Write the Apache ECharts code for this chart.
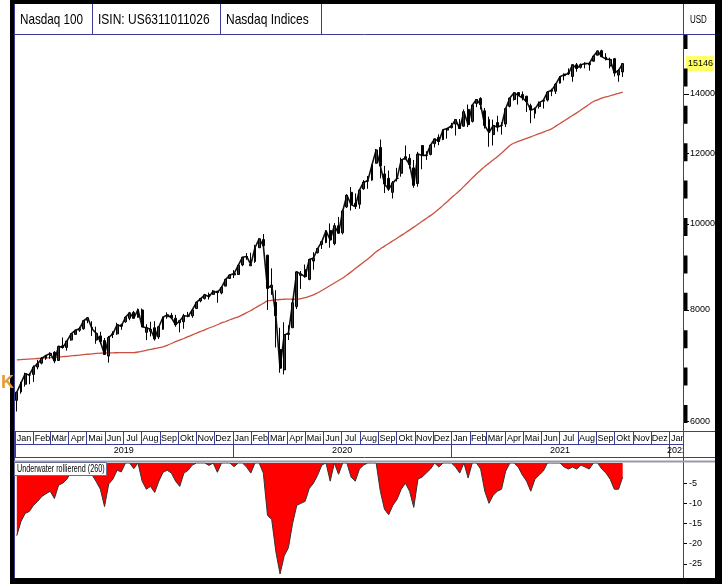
<!DOCTYPE html>
<html>
<head>
<meta charset="utf-8">
<title>Nasdaq 100</title>
<script src="https://cdn.jsdelivr.net/npm/echarts@6/dist/echarts.min.js"></script>
<style>
  html, body { margin: 0; padding: 0; background: #fff; }
  #chart { width: 722px; height: 584px; }
</style>
</head>
<body>
<div id="chart"></div>
<script>
// weekly bars, Friday closes, Jan 2019 - Oct 2021
const open = [
  6330, 6470, 6600, 6760, 6770, 6900, 6970, 7060, 7110, 7170, 7020, 7290, 7260, 7400, 7510, 7590, 7620, 7790, 7650, 7400, 7480, 7390, 7100, 7510, 7520, 7700,
  7760, 7830, 7950, 7850, 8000, 7550, 7570, 7640, 7460, 7610, 7860, 7890, 7830, 7740, 7760, 7880, 7880, 8030, 8190, 8240, 8330, 8330, 8400, 8360, 8510, 8680,
  8760, 8770, 8990, 9180, 8970, 9070, 9400, 9600, 9220, 8480, 8160, 7220, 6850, 7510, 7640, 8070, 8750, 8880, 8660, 9080, 9280, 9480, 9530, 9830, 9500, 9950,
  9770, 10450, 10850, 10550, 10520, 10950, 11170, 11200, 11700, 12190, 11380, 11250, 10850, 11250, 11400, 11900, 11850, 11560, 11100, 12250, 11950, 11970, 12310, 12510, 12440, 12750, 12830,
  12950, 12930, 12880, 13450, 13040, 13660, 13840, 13400, 13100, 12600, 13000, 12900, 12950, 13560, 13800, 14050, 13980, 13920, 13580, 13310, 13550,
  13740, 13780, 14100, 14100, 14400, 14680, 14790, 14650, 15100, 15000, 15130, 15100, 15240, 15480, 15660, 15400, 15050, 15340, 14700, 14820
];
const high = [
  6470, 6640, 6800, 6790, 6930, 7030, 7080, 7120, 7170, 7190, 7290, 7450, 7390, 7530, 7600, 7660, 7780, 7850, 7770, 7660, 7560, 7440, 7480, 7570, 7740, 7720,
  7860, 7960, 7980, 8030, 8030, 7710, 7760, 7770, 7660, 7860, 7950, 7940, 7900, 7790, 7920, 7960, 8010, 8170, 8240, 8340, 8370, 8420, 8400, 8500, 8660, 8770,
  8870, 9010, 9170, 9270, 9280, 9470, 9630, 9740, 9230, 8910, 8420, 7640, 7750, 7690, 8230, 8840, 8850, 9000, 9130, 9290, 9390, 9560, 9840, 10010, 10020, 10180,
  10380, 10800, 11000, 10820, 10930, 11200, 11320, 11660, 12140, 12440, 11620, 11480, 11170, 11560, 11870, 12250, 11980, 11800, 12050, 12250, 12070, 12270, 12470, 12610, 12770, 12810, 12990,
  13110, 13120, 13450, 13620, 13620, 13780, 13880, 13500, 13200, 13100, 13230, 13000, 13480, 13850, 14060, 14060, 14090, 13930, 13650, 13520, 13730,
  13780, 14090, 14190, 14400, 14650, 14770, 14960, 15100, 15170, 15150, 15200, 15200, 15450, 15650, 15700, 15560, 15380, 15370, 14930, 15160
];
const low = [
  6150, 6440, 6560, 6600, 6640, 6860, 6950, 7030, 7050, 6970, 7010, 7240, 7200, 7390, 7500, 7560, 7600, 7730, 7480, 7330, 7330, 7120, 6980, 7440, 7500, 7600,
  7740, 7790, 7830, 7840, 7660, 7400, 7470, 7390, 7420, 7600, 7820, 7820, 7660, 7550, 7620, 7850, 7840, 8030, 8160, 8220, 8220, 8320, 8150, 8330, 8510, 8670,
  8690, 8760, 8960, 9110, 8970, 9040, 9400, 9430, 8000, 8320, 7260, 6800, 6770, 7400, 7640, 8020, 8450, 8700, 8640, 8880, 9260, 9370, 9510, 9400, 9460, 9750,
  9730, 10420, 10350, 10390, 10400, 10920, 10950, 11180, 11690, 11250, 10830, 10890, 10680, 11160, 11300, 11850, 11540, 10980, 11010, 11520, 11800, 11940, 12190, 12260, 12420, 12470, 12800,
  12570, 12800, 12860, 12850, 13000, 13530, 13450, 12800, 12210, 12250, 12700, 12600, 12850, 13520, 13760, 13620, 13770, 13360, 12980, 13140, 13480,
  13480, 13730, 13920, 14000, 14380, 14500, 14700, 14450, 14830, 14950, 14960, 14870, 15220, 15470, 15410, 15270, 14960, 14650, 14450, 14630
];
const close = [
  6465, 6620, 6780, 6760, 6900, 6960, 7060, 7110, 7150, 7010, 7280, 7260, 7380, 7520, 7590, 7620, 7780, 7840, 7620, 7530, 7370, 7130, 7450, 7520, 7700, 7670,
  7850, 7940, 7830, 8010, 7660, 7640, 7610, 7420, 7660, 7850, 7900, 7840, 7700, 7780, 7880, 7870, 8000, 8160, 8240, 8320, 8280, 8400, 8370, 8480, 8660, 8760,
  8790, 8980, 9170, 9190, 9000, 9400, 9620, 9450, 8460, 8530, 7880, 6880, 7500, 7530, 8150, 8830, 8780, 8720, 9120, 9150, 9380, 9550, 9820, 9590, 9950, 9760,
  10340, 10770, 10510, 10460, 10910, 11140, 11180, 11650, 12110, 11620, 11090, 10940, 11120, 11250, 11800, 11850, 11660, 11050, 11980, 11940, 11940, 12260, 12460, 12380, 12760, 12800, 12890,
  13100, 12800, 13370, 12930, 13600, 13800, 13620, 12900, 12670, 12900, 12850, 12900, 13480, 13850, 14040, 13950, 13860, 13720, 13430, 13470, 13690,
  13770, 14070, 14140, 14360, 14640, 14720, 14750, 15100, 14960, 15100, 15150, 15150, 15440, 15650, 15420, 15320, 15310, 14780, 14880, 15146
];
// red moving average
const ma = [
  7030, 7035, 7040, 7045, 7050, 7055, 7060, 7065, 7070, 7075, 7080, 7088, 7095, 7103, 7110, 7118, 7125, 7133, 7140, 7148,
  7155, 7157, 7158, 7160, 7161, 7162, 7163, 7164, 7165, 7175, 7190, 7205, 7222, 7240, 7255, 7270, 7300, 7335, 7370,
  7400, 7430, 7465, 7500, 7535, 7570, 7600, 7635, 7665, 7700, 7735, 7765, 7800, 7830,
  7860, 7900, 7945, 7990, 8040, 8090, 8140, 8190, 8200, 8210, 8220, 8225, 8230, 8225, 8225, 8240, 8260, 8285, 8320,
  8365, 8415, 8470, 8525, 8580, 8635, 8690, 8760, 8830, 8905, 8980, 9055, 9130, 9215, 9300,
  9370, 9440, 9505, 9570, 9635, 9705, 9770, 9840, 9915, 9990, 10065, 10140, 10215, 10300, 10390, 10490, 10590, 10700,
  10800, 10900, 11020, 11140, 11260, 11380, 11490, 11600, 11700, 11800, 11900, 12010, 12130, 12250,
  12330, 12380, 12430, 12480, 12530, 12580, 12630, 12680, 12735, 12790, 12880, 12970, 13060, 13150, 13240, 13330,
  13430, 13530, 13630, 13730, 13790, 13850, 13890, 13935, 13980, 14025, 14070
];
// Underwater rollierend (260), percent
const underwater = [
  -18, -14.5, -12.5, -12, -10.5, -9.5, -8.3, -7.6, -7, -8.8, -5.5, -5, -4, -2.2, -1.3, -0.9, 0, 0, -2.9, -4.6, -6.5, -10.8, -5.2, -4, -1.8, -2.2,
  0, 0, -1.4, 0, -4.5, -6.5, -5.8, -7.3, -4.5, -2.3, -1.8, -2.5, -4.5, -5.8, -2.5, -1.8, -0.5, 0, 0, 0, -0.6, 0, -2.3, 0, 0, 0,
  -0.9, 0, 0, -1, -2.5, 0, 0, -2.5, -13, -14, -22, -27.5, -23, -21, -15, -10.5, -10, -9.5, -6.3, -5, -3, -0.5, 0, -4.5, 0, -2.8,
  0, 0, -3.5, -4.5, -1.5, -0.5, 0, 0, 0, -7, -11.5, -12.8, -10.5, -9, -6.5, -5, -7, -11, -4, -3.5, -2.5, -1.5, 0, -1, 0, 0, 0,
  -1, -2.5, 0, -3.7, 0, 0, -1.5, -7, -10, -8, -7, -6.5, -2, 0, 0, -1, -3, -4.5, -7, -4, -3,
  -2, 0, 0, 0, 0, -1, -1.5, -1, -1.5, -0.5, -1, -1.5, 0, 0, -1.5, -2.5, -4, -6.5, -6.5, -3.5
];

const monthNames = ['Jan', 'Feb', 'Mär', 'Apr', 'Mai', 'Jun', 'Jul', 'Aug', 'Sep', 'Okt', 'Nov', 'Dez'];
const priceTicks = [6000, 8000, 10000, 12000, 14000];
const underwaterTicks = [-5, -10, -15, -20, -25];
const lastPrice = 15146;

const FONT = '"Liberation Sans", Arial, sans-serif';
const BLUE = '#3c3c96';

// x axes are value axes in milliseconds
const xMin = new Date(2019, 0, 1).getTime();
const xMax = new Date(2022, 0, 24).getTime();
const weeks = close.map((_, i) => new Date(2019, 0, 4 + 7 * i).getTime());

const monthStarts = [], monthMids = [], yearStarts = [], yearMids = [];
for (let y = 2019; y <= 2022; y++) {
  yearStarts.push(new Date(y, 0, 1).getTime());
  yearMids.push(y < 2022 ? new Date(y, 6, 2).getTime() : new Date(y, 0, 14).getTime());
  for (let m = 0; m < 12; m++) {
    const t = new Date(y, m, 1).getTime();
    if (t > xMax) break;
    monthStarts.push(t);
    monthMids.push(new Date(y, m, 16).getTime());
  }
}

// narrow header text: squeeze regular font horizontally
function narrowText(text, x, y, size, sx) {
  return {
    type: 'text', z: 103, x: x, y: y, scaleX: sx,
    style: { text: text, x: 0, y: 0, verticalAlign: 'middle', font: size + 'px ' + FONT, fill: '#000' }
  };
}

const chart = echarts.init(document.getElementById('chart'));

const option = {
  animation: false,
  backgroundColor: '#fff',
  grid: [
    { left: 15, right: 39, top: 35, height: 396 },
    { left: 15, right: 39, top: 463, height: 115 }
  ],
  xAxis: [
    {
      type: 'value', gridIndex: 0, position: 'bottom', min: xMin, max: xMax,
      axisLine: { show: true, lineStyle: { color: BLUE, width: 1 } },
      axisTick: { show: true, customValues: monthStarts, length: 13, lineStyle: { color: BLUE } },
      axisLabel: {
        customValues: monthMids, margin: 3, fontSize: 9, fontFamily: FONT, color: '#000',
        formatter: v => monthNames[new Date(v).getMonth()]
      },
      splitLine: { show: false }
    },
    {
      type: 'value', gridIndex: 0, position: 'bottom', min: xMin, max: xMax, offset: 13,
      axisLine: { show: true, lineStyle: { color: BLUE, width: 1 } },
      axisTick: { show: true, customValues: yearStarts, length: 13, lineStyle: { color: BLUE } },
      axisLabel: {
        customValues: yearMids, margin: 2, fontSize: 9, fontFamily: FONT, color: '#000',
        formatter: v => String(new Date(v).getFullYear())
      },
      splitLine: { show: false }
    },
    { type: 'value', gridIndex: 1, min: xMin, max: xMax, show: false, splitLine: { show: false } }
  ],
  yAxis: [
    {
      type: 'log', gridIndex: 0, position: 'right', min: 5847, max: 16310,
      axisLine: { show: false },
      axisTick: { show: true, customValues: priceTicks, length: 6, lineStyle: { color: '#000' } },
      axisLabel: {
        customValues: priceTicks.concat([lastPrice]), margin: 3, color: '#000',
        fontSize: 9, fontFamily: FONT,
        formatter: v => v === lastPrice ? '{hl|' + v + '}' : '{n|' + v + '}',
        rich: {
          n: { fontSize: 9, fontFamily: FONT, color: '#000', padding: [0, 0, 0, 4] },
          hl: { fontSize: 9, fontFamily: FONT, color: '#000', backgroundColor: '#ffff66', padding: [3, 1, 3, 2] }
        }
      },
      splitLine: { show: false }
    },
    {
      type: 'value', gridIndex: 1, position: 'right', min: -28.5, max: 0,
      axisLine: { show: false },
      axisTick: { show: true, customValues: underwaterTicks, length: 4, lineStyle: { color: '#000' } },
      axisLabel: {
        customValues: underwaterTicks, margin: 6, color: '#000', fontSize: 9, fontFamily: FONT
      },
      splitLine: { show: false }
    }
  ],
  series: [
    {
      name: 'MA', type: 'line', xAxisIndex: 0, yAxisIndex: 0,
      data: weeks.map((t, i) => [t, ma[i]]),
      showSymbol: false, smooth: true,
      lineStyle: { color: '#cc5040', width: 1.3 },
      z: 2
    },
    {
      name: 'Schluss', type: 'line', xAxisIndex: 0, yAxisIndex: 0,
      data: weeks.map((t, i) => [t, close[i]]),
      showSymbol: false,
      lineStyle: { color: '#111', width: 1.6 },
      z: 3
    },
    {
      name: 'Nasdaq 100', type: 'candlestick', xAxisIndex: 0, yAxisIndex: 0,
      data: weeks.map((t, i) => [t, open[i], close[i], low[i], high[i]]),
      encode: { x: 0, y: [1, 2, 3, 4] },
      barWidth: 2.4,
      itemStyle: { color: '#333', color0: '#000', borderColor: '#000', borderColor0: '#000', borderWidth: 1 },
      z: 4
    },
    {
      name: 'Underwater rollierend (260)', type: 'line', xAxisIndex: 2, yAxisIndex: 1,
      data: weeks.map((t, i) => [t, underwater[i]]),
      showSymbol: false,
      lineStyle: { color: '#333', width: 1 },
      areaStyle: { color: '#ff0000', origin: 'end', opacity: 1 }
    }
  ],
  graphic: {
    elements: [
      // cover the axis-area part of the time rows
      { type: 'rect', z: 100, shape: { x: 684, y: 432, width: 31, height: 25 }, style: { fill: '#fff' } },
      // right price axis stripe
      { type: 'line', z: 101, shape: { x1: 685.5, y1: 423, x2: 685.5, y2: 35 }, style: { stroke: '#000', lineWidth: 4, lineDash: [18, 19.4] } },
      // blue frame lines
      { type: 'line', z: 102, shape: { x1: 14.5, y1: 4, x2: 14.5, y2: 578 }, style: { stroke: BLUE, lineWidth: 1 } },
      { type: 'line', z: 102, shape: { x1: 683.5, y1: 4, x2: 683.5, y2: 578 }, style: { stroke: BLUE, lineWidth: 1 } },
      { type: 'line', z: 102, shape: { x1: 14, y1: 34.5, x2: 715, y2: 34.5 }, style: { stroke: BLUE, lineWidth: 1 } },
      { type: 'line', z: 102, shape: { x1: 683, y1: 431.5, x2: 715, y2: 431.5 }, style: { stroke: BLUE, lineWidth: 1 } },
      { type: 'line', z: 102, shape: { x1: 14, y1: 457.5, x2: 715, y2: 457.5 }, style: { stroke: BLUE, lineWidth: 1 } },
      { type: 'line', z: 102, shape: { x1: 14, y1: 461.5, x2: 715, y2: 461.5 }, style: { stroke: '#9a9aa8', lineWidth: 2 } },
      // header cells
      { type: 'line', z: 102, shape: { x1: 92.5, y1: 4, x2: 92.5, y2: 35 }, style: { stroke: BLUE, lineWidth: 1 } },
      { type: 'line', z: 102, shape: { x1: 220.5, y1: 4, x2: 220.5, y2: 35 }, style: { stroke: BLUE, lineWidth: 1 } },
      { type: 'line', z: 102, shape: { x1: 321.5, y1: 4, x2: 321.5, y2: 35 }, style: { stroke: BLUE, lineWidth: 1 } },
      narrowText('Nasdaq 100', 20, 20, 15, 0.78),
      narrowText('ISIN: US6311011026', 98, 20, 15, 0.8),
      narrowText('Nasdaq Indices', 226, 20, 15, 0.8),
      narrowText('USD', 690, 20, 10, 0.8),
      // lower panel caption
      { type: 'rect', z: 102, shape: { x: 14.5, y: 462.5, width: 92, height: 13 }, style: { fill: '#fff', stroke: '#6a6a9a', lineWidth: 1 } },
      narrowText('Underwater rollierend (260)', 17, 469.5, 10, 0.72),
      // black outer frame
      { type: 'rect', z: 104, shape: { x: 10, y: 0, width: 4, height: 584 }, style: { fill: '#000' } },
      { type: 'rect', z: 104, shape: { x: 10, y: 0, width: 712, height: 4 }, style: { fill: '#000' } },
      { type: 'rect', z: 104, shape: { x: 715, y: 0, width: 7, height: 584 }, style: { fill: '#000' } },
      { type: 'rect', z: 104, shape: { x: 10, y: 578, width: 712, height: 6 }, style: { fill: '#000' } },
      // cut-off glyph at the left edge
      { type: 'text', z: 104, style: { text: 'K', x: 1, y: 383, verticalAlign: 'middle', font: 'bold 18px ' + FONT, fill: '#e89a30' } }
    ]
  }
};

chart.setOption(option);
</script>
</body>
</html>
